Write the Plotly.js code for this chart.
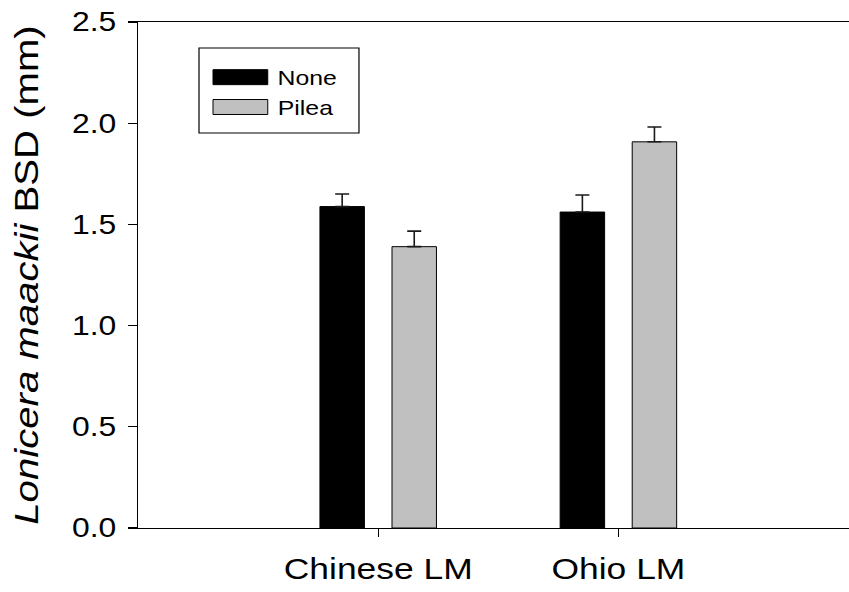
<!DOCTYPE html>
<html>
<head>
<meta charset="utf-8">
<script src="https://cdn.plot.ly/plotly-3.0.1.min.js"></script>
<style>
  html, body { margin: 0; padding: 0; background: #fff; }
  #chart { width: 849px; height: 592px; }
</style>
</head>
<body>
<div id="chart"></div>
<script>
// Basal stem diameter of Lonicera maackii by source population and neighbour treatment
const sources = ['Chinese LM', 'Ohio LM'];
const seriesNames = ['None', 'Pilea'];
const noneMeans = [1.588, 1.561];
const noneErr = [0.062, 0.084];
const pileaMeans = [1.390, 1.908];
const pileaErr = [0.077, 0.073];
const seriesColors = ['#000000', '#c0c0c0'];

const FONT = 'Liberation Sans, Arial, sans-serif';
// horizontal stretch applied to all drawn text (wide lettering)
const TEXT_STRETCH = 1.18;

function barTrace(name, y, err, color) {
  return {
    type: 'bar',
    name: name,
    x: sources,
    y: y,
    marker: { color: color, line: { color: '#000', width: 1 } },
    error_y: {
      type: 'data', symmetric: false, array: err,
      arrayminus: err.map(() => 0),
      color: '#1a1a1a', thickness: 1.6, width: 7
    },
    showlegend: false,
    hoverinfo: 'skip'
  };
}

const data = [
  barTrace(seriesNames[0], noneMeans, noneErr, seriesColors[0]),
  barTrace(seriesNames[1], pileaMeans, pileaErr, seriesColors[1])
];

// Boxed key in the upper left of the plotting area
const shapes = [
  { type: 'rect', xref: 'paper', yref: 'paper', x0: 0.0858, x1: 0.3108, y0: 0.7806, y1: 0.9486,
    line: { color: '#000', width: 1.2 }, fillcolor: '#fff', layer: 'above' }
];
const annotations = [];
const keyRows = [0.891, 0.832];
seriesNames.forEach((n, i) => {
  shapes.push({ type: 'rect', xref: 'paper', yref: 'paper',
    x0: 0.1055, x1: 0.1825, y0: keyRows[i] - 0.0148, y1: keyRows[i] + 0.0148,
    fillcolor: seriesColors[i], line: { color: '#000', width: 1 }, layer: 'above' });
  annotations.push({ xref: 'paper', yref: 'paper', x: 0.2, y: keyRows[i],
    xanchor: 'left', yanchor: 'middle', text: n, showarrow: false,
    font: { family: FONT, size: 21, color: '#000' } });
});

const layout = {
  width: 849, height: 592,
  margin: { l: 138, r: 0, t: 22, b: 64 },
  paper_bgcolor: '#fff', plot_bgcolor: '#fff',
  font: { family: FONT, color: '#000' },
  barmode: 'group', bargap: 0.4, bargroupgap: 0.383,
  xaxis: {
    type: 'category', range: [-1, 1.96],
    showline: true, linecolor: '#000', linewidth: 1.3, mirror: true,
    ticks: 'outside', ticklen: 8, tickwidth: 1.3, tickcolor: '#000',
    showgrid: false, zeroline: false, automargin: false,
    ticklabelstandoff: 6,
    tickfont: { family: FONT, size: 30, color: '#000' }
  },
  yaxis: {
    range: [0, 2.5], dtick: 0.5, tick0: 0, tickformat: '.1f',
    showline: true, linecolor: '#000', linewidth: 1.3,
    ticks: 'outside', ticklen: 9, tickwidth: 1.3, tickcolor: '#000',
    showgrid: false, zeroline: false, automargin: false,
    ticklabelstandoff: 6,
    tickfont: { family: FONT, size: 27, color: '#000' },
    title: { text: '<i>Lonicera maackii</i> BSD (mm)', standoff: 30,
      font: { family: FONT, size: 34, color: '#000' } }
  },
  shapes: shapes,
  annotations: annotations
};

Plotly.newPlot('chart', data, layout, { staticPlot: true, displayModeBar: false })
  .then(gd => {
    // widen every label along its own baseline
    gd.querySelectorAll('.xtick text, .ytick text, .g-ytitle text, .annotation-text').forEach(t => {
      const len = t.getComputedTextLength();
      if (len > 0) {
        t.setAttribute('textLength', (len * TEXT_STRETCH).toFixed(1));
        t.setAttribute('lengthAdjust', 'spacingAndGlyphs');
      }
    });
  });
</script>
</body>
</html>
